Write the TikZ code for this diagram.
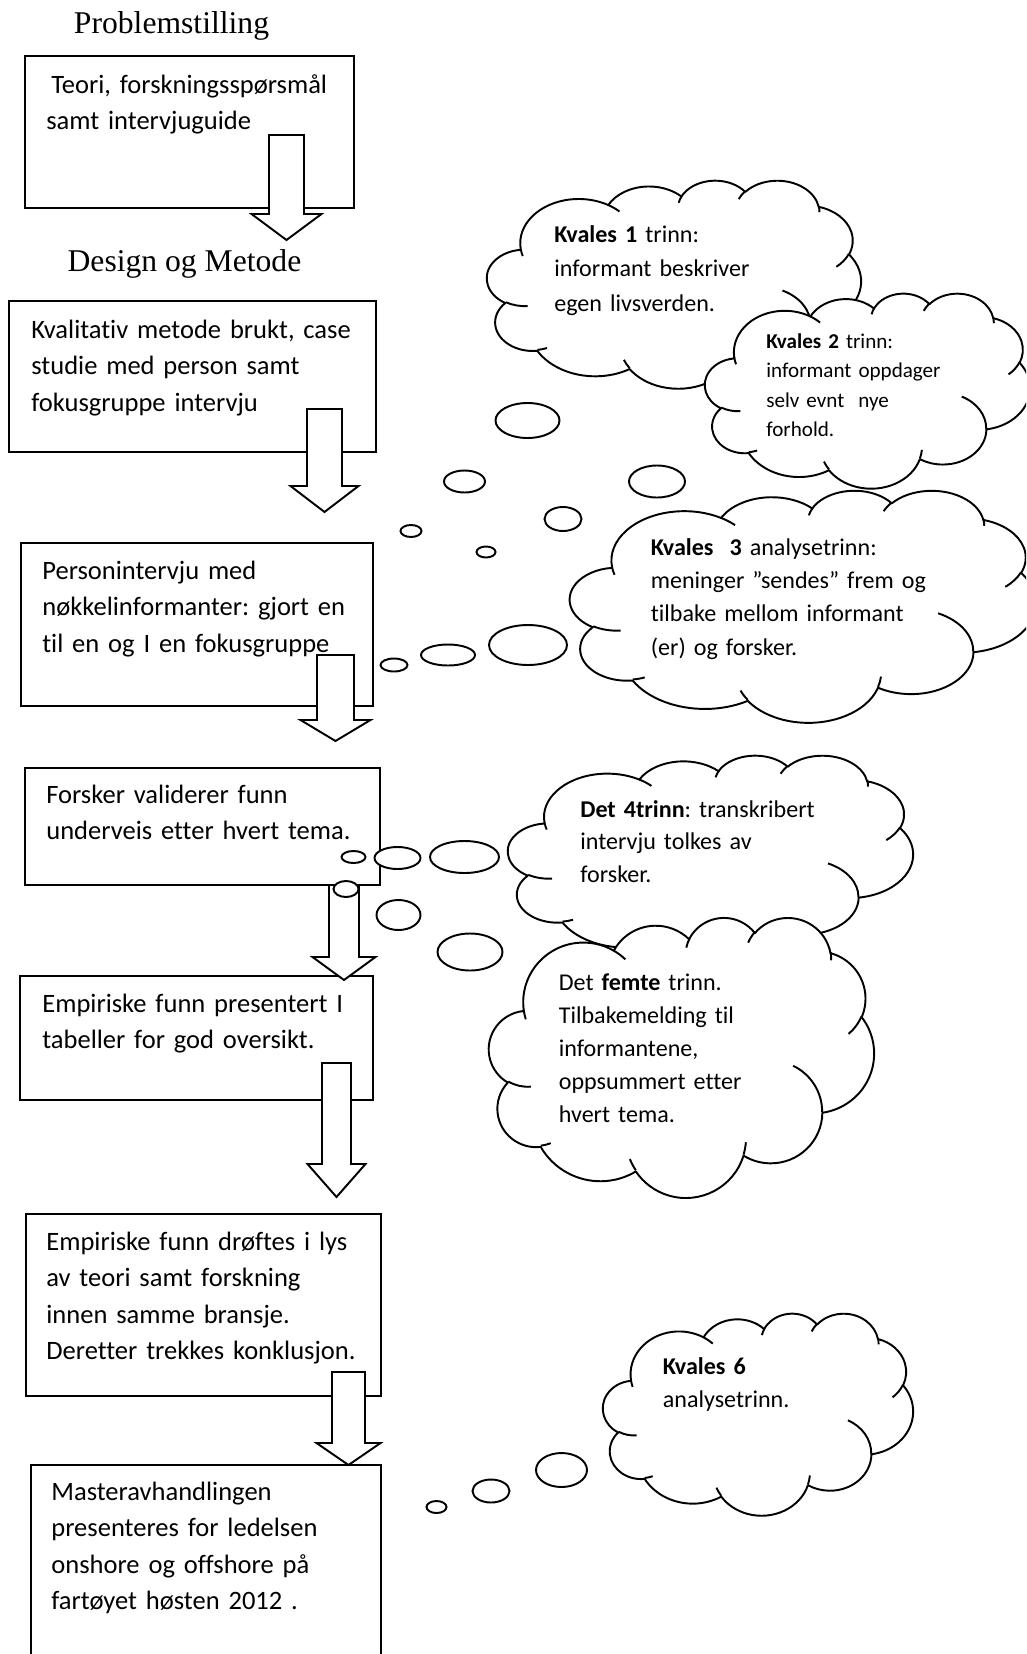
\documentclass[tikz,border=0pt]{standalone}
\usepackage{fontspec}
\setmainfont[Ligatures=CommonOff]{Carlito}
\newfontfamily\titlefont{Liberation Serif}
\usetikzlibrary{calc}
\frenchspacing

% one puff of a Word cloud: x radius, y radius, start angle, sweep
\newcommand\cloudarc[4]{%
  let \n1={atan2((#1)*sin(#3),(#2)*cos(#3))},
      \n2={Mod(atan2((#1)*sin((#3)+(#4)),(#2)*cos((#3)+(#4)))-\n1,360)}
  in arc[start angle=\n1, delta angle=\n2, x radius=#1, y radius=#2]}

% cloud: left, top, width, height
\newcommand\kcloud[4]{%
  \begin{scope}[shift={(#1,#2)}, xscale=#3/43.2, yscale=-#4/43.2]
    \draw[cloudline, fill=white] (3.9,14.37)
      \cloudarc{6.753}{9.19}{-190.4875}{123.7805}
      \cloudarc{5.333}{7.267}{-144.1024}{89.9452}
      \cloudarc{4.365}{5.945}{-145.8079}{99.7230}
      \cloudarc{4.857}{6.595}{-130.9861}{117.2417}
      \cloudarc{5.333}{7.273}{-78.7089}{109.0269}
      \cloudarc{6.775}{9.22}{-46.2673}{130.2690}
      \cloudarc{5.785}{7.867}{0.6250}{114.0333}
      \cloudarc{6.752}{9.215}{22.4516}{115.1726}
      \cloudarc{7.72}{10.543}{66.2426}{75.7110}
      \cloudarc{4.36}{5.918}{-274.9421}{146.7356}
      \cloudarc{4.345}{5.945}{-246.8285}{152.5189}
      -- cycle;
    % inner puff lines
    \draw[cloudline]
      (4.693,26.177) \cloudarc{4.345}{5.945}{86.7420}{26.4295}
      (6.928,34.899) \cloudarc{4.36}{5.918}{73.6105}{11.4475}
      (16.478,39.09) \cloudarc{6.752}{9.215}{137.6242}{14.0811}
      (28.827,34.751) \cloudarc{6.752}{9.215}{6.4533}{15.9984}
      (34.129,22.954) \cloudarc{5.785}{7.867}{-70.2924}{70.9174}
      (41.798,15.354) \cloudarc{5.333}{7.273}{30.3180}{27.7515}
      (38.324,5.426) \cloudarc{4.857}{6.595}{-13.7443}{14.8589}
      (29.078,3.952) \cloudarc{4.857}{6.595}{-149.1815}{18.1954}
      (22.141,4.72) \cloudarc{4.365}{5.945}{-163.4943}{17.8492}
      (14.0,5.192) \cloudarc{6.753}{9.19}{-66.7070}{12.3194}
      (4.127,15.789) \cloudarc{6.753}{9.19}{157.6544}{11.8582};
  \end{scope}}

% block arrow: centre x, top, head, tip, half shaft, half head
\newcommand\blockarrow[6]{%
  \draw[blockarrow] ({#1-#5},#2) -- ({#1-#5},#3) -- ({#1-#6},#3) -- (#1,#4)
    -- ({#1+#6},#3) -- ({#1+#5},#3) -- ({#1+#5},#2) -- cycle;}

\begin{document}
\begin{tikzpicture}[
    box/.style={draw, line width=1.1pt, rectangle, anchor=north west, inner sep=0pt, outer sep=0pt},
    boxtext/.style={anchor=base west, inner sep=0pt, text width=8cm, align=left, font=\fontsize{15.1}{20.8}\selectfont},
    cloudtext/.style={anchor=base west, inner sep=0pt, text width=8cm, align=left, font=\fontsize{13.7}{19}\selectfont},
    title/.style={anchor=base, inner sep=0pt, font=\titlefont\fontsize{18}{22}\selectfont},
    blockarrow/.style={draw, fill=white, line width=1.1pt},
    cloudline/.style={line width=1.1pt, line join=round},
    bubble/.style={draw, fill=white, line width=1.1pt}
  ]
    \useasboundingbox (0,0) rectangle (20.52,-33.08);
    \fill[white] (0,0) rectangle (20.52,-33.08);
    \clip (0,0) rectangle (20.52,-33.08);

    % Headings
    \node[title] (problem) at (3.43,-0.666) {Problemstilling};
    \node[title] (design) at (3.69,-5.434) {Design og Metode};

    % Left column: boxes
    \node[box, minimum width=6.58cm, minimum height=3.04cm] (teori) at (0.50,-1.12) {};
    \node[box, minimum width=7.34cm, minimum height=3.02cm] (metode) at (0.18,-6.02) {};
    \node[box, minimum width=7.04cm, minimum height=3.26cm] (intervju) at (0.42,-10.86) {};
    \node[box, minimum width=7.10cm, minimum height=2.34cm] (valider) at (0.50,-15.36) {};
    \node[box, minimum width=7.06cm, minimum height=2.48cm] (tabell) at (0.40,-19.52) {};
    \node[box, minimum width=7.10cm, minimum height=3.64cm] (drofting) at (0.52,-24.28) {};
    \node[box, minimum width=7.00cm, minimum height=5.20cm] (master) at (0.62,-29.30) {};

    \node[boxtext] (teoritxt) at (0.92,-1.86) {\hspace*{0.1cm}Teori, forskningsspørsmål\\samt intervjuguide};
    \node[boxtext] (metodetxt) at (0.62,-6.76) {Kvalitativ metode brukt, case\\studie med person samt\\fokusgruppe intervju};
    \node[boxtext] (intervjutxt) at (0.84,-11.58) {Personintervju med\\nøkkelinformanter: gjort en\\til en og I en fokusgruppe};
    \node[boxtext] (validertxt) at (0.92,-16.06) {Forsker validerer funn\\underveis etter hvert tema.};
    \node[boxtext] (tabelltxt) at (0.84,-20.24) {Empiriske funn presentert I\\tabeller for god oversikt.};
    \node[boxtext] (droftingtxt) at (0.92,-25.00) {Empiriske funn drøftes i lys\\av teori samt forskning\\innen samme bransje.\\Deretter trekkes konklusjon.};
    \node[boxtext] (mastertxt) at (1.02,-30.00) {Masteravhandlingen\\presenteres for ledelsen\\onshore og offshore på\\fartøyet høsten 2012 .};

    % Block arrows
    \blockarrow{5.73}{-2.70}{-4.28}{-4.80}{0.35}{0.70}
    \blockarrow{6.49}{-8.18}{-9.72}{-10.24}{0.35}{0.68}
    \blockarrow{6.71}{-13.10}{-14.40}{-14.82}{0.37}{0.70}
    \blockarrow{6.88}{-17.70}{-19.14}{-19.60}{0.30}{0.63}
    \blockarrow{6.73}{-21.26}{-23.28}{-23.94}{0.29}{0.58}
    \blockarrow{6.97}{-27.44}{-28.86}{-29.30}{0.33}{0.64}

    % Clouds (Kvale steps)
    \kcloud{9.74}{-3.60}{7.48}{4.16}
    \kcloud{14.10}{-5.86}{6.50}{3.90}
    \kcloud{11.40}{-9.80}{9.32}{4.64}
    \kcloud{10.16}{-15.10}{8.10}{4.08}
    \kcloud{9.78}{-18.34}{7.70}{5.60}
    \kcloud{12.06}{-26.26}{6.20}{4.04}

    \node[cloudtext, font=\fontsize{13.7}{19.7}\selectfont] (trinn1) at (11.08,-4.846) {\textbf{Kvales 1} trinn:\\informant beskriver\\egen livsverden.};
    \node[cloudtext, font=\fontsize{12}{16.8}\selectfont] (trinn2) at (15.32,-6.966) {\textbf{Kvales 2} trinn:\\informant oppdager\\selv evnt\ \ nye\\forhold.};
    \node[cloudtext] (trinn3) at (13.01,-11.10) {\textbf{Kvales\ \ 3} analysetrinn:\\meninger ”sendes” frem og\\tilbake mellom informant\\(er) og forsker.};
    \node[cloudtext, font=\fontsize{13.7}{18.6}\selectfont] (trinn4) at (11.60,-16.346) {\textbf{Det 4trinn}: transkribert\\intervju tolkes av\\forsker.};
    \node[cloudtext, font=\fontsize{13.7}{18.8}\selectfont] (trinn5) at (11.17,-19.814) {Det \textbf{femte} trinn.\\Tilbakemelding til\\informantene,\\oppsummert etter\\hvert tema.};
    \node[cloudtext] (trinn6) at (13.25,-27.48) {\textbf{Kvales 6}\\analysetrinn.};

    % Thought bubbles
    \draw[bubble] (10.55,-8.41) ellipse [x radius=0.64, y radius=0.35];
    \draw[bubble] (9.29,-9.63) ellipse [x radius=0.41, y radius=0.22];
    \draw[bubble] (8.22,-10.62) ellipse [x radius=0.21, y radius=0.12];
    \draw[bubble] (13.14,-9.63) ellipse [x radius=0.56, y radius=0.32];
    \draw[bubble] (11.26,-10.38) ellipse [x radius=0.37, y radius=0.24];
    \draw[bubble] (9.72,-11.04) ellipse [x radius=0.19, y radius=0.11];
    \draw[bubble] (10.56,-12.90) ellipse [x radius=0.78, y radius=0.40];
    \draw[bubble] (8.96,-13.10) ellipse [x radius=0.54, y radius=0.21];
    \draw[bubble] (7.88,-13.30) ellipse [x radius=0.27, y radius=0.13];
    \draw[bubble] (9.29,-17.14) ellipse [x radius=0.69, y radius=0.32];
    \draw[bubble] (7.95,-17.16) ellipse [x radius=0.46, y radius=0.22];
    \draw[bubble] (7.07,-17.14) ellipse [x radius=0.24, y radius=0.12];
    \draw[bubble] (9.40,-19.04) ellipse [x radius=0.65, y radius=0.37];
    \draw[bubble] (7.97,-18.30) ellipse [x radius=0.44, y radius=0.30];
    \draw[bubble] (6.92,-17.78) ellipse [x radius=0.25, y radius=0.16];
    \draw[bubble] (11.23,-29.40) ellipse [x radius=0.51, y radius=0.34];
    \draw[bubble] (9.82,-29.82) ellipse [x radius=0.37, y radius=0.23];
    \draw[bubble] (8.73,-30.14) ellipse [x radius=0.20, y radius=0.12];
\end{tikzpicture}
\end{document}
